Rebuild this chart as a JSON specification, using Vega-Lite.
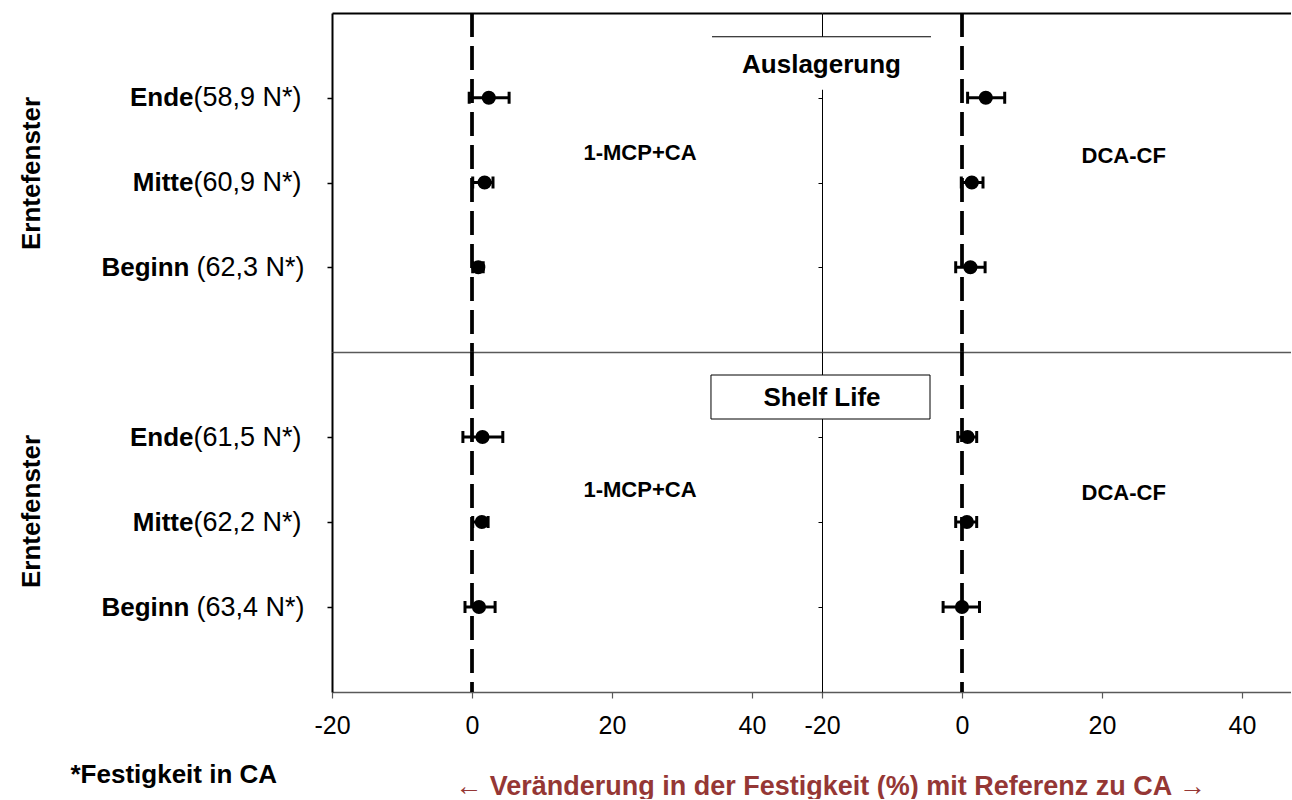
{
  "$schema": "https://vega.github.io/schema/vega-lite/v6.json",
  "background": "white",
  "padding": {"left": 18, "top": 11, "right": 0, "bottom": 0},
  "bounds": "flush",
  "spacing": 0,
  "columns": 2,
  "align": "each",
  "config": {"view": {"stroke": null}, "axis": {"grid": false}, "font": "Liberation Sans"},
  "datasets": {
    "festigkeit": [
      {"Phase": "Auslagerung", "Variante": "1-MCP+CA", "Erntefenster": "Ende(58,9 N*)", "Wert": 2.4, "Min": -0.4, "Max": 5.3},
      {"Phase": "Auslagerung", "Variante": "1-MCP+CA", "Erntefenster": "Mitte(60,9 N*)", "Wert": 1.8, "Min": 0.1, "Max": 3.0},
      {"Phase": "Auslagerung", "Variante": "1-MCP+CA", "Erntefenster": "Beginn (62,3 N*)", "Wert": 0.9, "Min": 0.1, "Max": 1.6},
      {"Phase": "Auslagerung", "Variante": "DCA-CF", "Erntefenster": "Ende(58,9 N*)", "Wert": 3.4, "Min": 0.8, "Max": 6.1},
      {"Phase": "Auslagerung", "Variante": "DCA-CF", "Erntefenster": "Mitte(60,9 N*)", "Wert": 1.4, "Min": -0.1, "Max": 3.0},
      {"Phase": "Auslagerung", "Variante": "DCA-CF", "Erntefenster": "Beginn (62,3 N*)", "Wert": 1.2, "Min": -0.9, "Max": 3.3},
      {"Phase": "Shelf Life", "Variante": "1-MCP+CA", "Erntefenster": "Ende(61,5 N*)", "Wert": 1.5, "Min": -1.3, "Max": 4.4},
      {"Phase": "Shelf Life", "Variante": "1-MCP+CA", "Erntefenster": "Mitte(62,2 N*)", "Wert": 1.4, "Min": 0.1, "Max": 2.3},
      {"Phase": "Shelf Life", "Variante": "1-MCP+CA", "Erntefenster": "Beginn (63,4 N*)", "Wert": 1.0, "Min": -1.0, "Max": 3.3},
      {"Phase": "Shelf Life", "Variante": "DCA-CF", "Erntefenster": "Ende(61,5 N*)", "Wert": 0.8, "Min": -0.6, "Max": 2.1},
      {"Phase": "Shelf Life", "Variante": "DCA-CF", "Erntefenster": "Mitte(62,2 N*)", "Wert": 0.7, "Min": -0.9, "Max": 2.1},
      {"Phase": "Shelf Life", "Variante": "DCA-CF", "Erntefenster": "Beginn (63,4 N*)", "Wert": 0.0, "Min": -2.7, "Max": 2.5}
    ]
  },
  "data": {"name": "festigkeit"},
  "concat": [
    {
      "width": 490,
      "height": 339,
      "transform": [{"filter": "datum.Phase === 'Auslagerung' && datum.Variante === '1-MCP+CA'"}],
      "layer": [
        {
          "mark": {"type": "rule", "color": "black", "strokeWidth": 3, "strokeDash": [24, 9]},
          "encoding": {
            "x": {"datum": 0, "type": "quantitative", "scale": {"domain": [-20, 50], "nice": false, "zero": false},
              "axis": {"orient": "top", "title": null, "labels": false, "ticks": false, "domainColor": "black", "domainWidth": 2}}
          }
        },
        {
          "mark": {"type": "rule", "color": "black", "strokeWidth": 3},
          "encoding": {
            "x": {"field": "Min", "type": "quantitative", "axis": null},
            "x2": {"field": "Max"},
            "y": {"field": "Erntefenster", "type": "nominal",
              "scale": {"type": "point", "padding": 1, "domain": ["Ende(58,9 N*)", "Mitte(60,9 N*)", "Beginn (62,3 N*)"]},
              "axis": {"orient": "left", "title": null, "domain": true, "domainColor": "black", "domainWidth": 2, "ticks": true, "tickSize": 5, "tickWidth": 1.5, "tickColor": "black",
                "labelExpr": "'(' + split(datum.value, '(')[1]", "labelAlign": "left", "labelBaseline": "middle",
                "labelPadding": {"condition": {"test": "indexof(datum.value, ' (') >= 0", "value": 131}, "value": 134},
                "labelFont": "Liberation Sans", "labelFontSize": 27, "labelColor": "black", "labelOverlap": false, "labelBound": false}}
          }
        },
        {
          "mark": {"type": "tick", "color": "black", "opacity": 1, "size": 12, "thickness": 3},
          "encoding": {"x": {"field": "Min", "type": "quantitative", "axis": null}, "y": {"field": "Erntefenster", "type": "nominal", "axis": null}}
        },
        {
          "mark": {"type": "tick", "color": "black", "opacity": 1, "size": 12, "thickness": 3},
          "encoding": {"x": {"field": "Max", "type": "quantitative", "axis": null}, "y": {"field": "Erntefenster", "type": "nominal", "axis": null}}
        },
        {
          "mark": {"type": "point", "filled": true, "opacity": 1, "color": "black", "size": 200},
          "encoding": {
            "x": {"field": "Wert", "type": "quantitative", "axis": null},
            "y": {"field": "Erntefenster", "type": "nominal",
              "axis": {"orient": "left", "domain": false, "ticks": false,
                "labelExpr": "trim(split(datum.value, '(')[0])", "labelAlign": "right", "labelBaseline": "middle",
                "labelPadding": {"condition": {"test": "indexof(datum.value, ' (') >= 0", "value": 143}, "value": 139},
                "labelFont": "Liberation Sans", "labelFontSize": 26, "labelFontWeight": "bold", "labelColor": "black", "labelOverlap": false, "labelBound": false,
                "title": "Erntefenster", "titleFont": "Liberation Sans", "titleFontSize": 26, "titleFontWeight": "bold", "titleColor": "black",
                "titleAngle": 270, "titleX": -293, "titleY": 160, "titleAlign": "center", "titleBaseline": "alphabetic"}}
          }
        },
        {
          "transform": [{"filter": "indexof(datum.Erntefenster, 'Mitte') === 0"}],
          "mark": {"type": "text", "font": "Liberation Sans", "fontSize": 22, "fontWeight": "bold", "color": "black", "dy": -30},
          "encoding": {
            "text": {"field": "Variante"},
            "x": {"datum": 24, "axis": null},
            "y": {"field": "Erntefenster", "type": "nominal", "axis": null}
          }
        }
      ],
      "resolve": {"axis": {"x": "independent", "y": "independent"}}
    },
    {
      "width": 469,
      "height": 339,
      "transform": [{"filter": "datum.Phase === 'Auslagerung' && datum.Variante === 'DCA-CF'"}],
      "layer": [
        {
          "mark": {"type": "rule", "color": "black", "strokeWidth": 3, "strokeDash": [24, 9]},
          "encoding": {
            "x": {"datum": 0, "type": "quantitative", "scale": {"domain": [-20, 47], "nice": false, "zero": false},
              "axis": {"orient": "top", "title": null, "labels": false, "ticks": false, "domainColor": "black", "domainWidth": 2}}
          }
        },
        {
          "mark": {"type": "rule", "color": "black", "strokeWidth": 3},
          "encoding": {
            "x": {"field": "Min", "type": "quantitative", "axis": null},
            "x2": {"field": "Max"},
            "y": {"field": "Erntefenster", "type": "nominal",
              "scale": {"type": "point", "padding": 1, "domain": ["Ende(58,9 N*)", "Mitte(60,9 N*)", "Beginn (62,3 N*)"]},
              "axis": {"orient": "left", "title": null, "labels": false, "domain": true, "domainColor": "black", "domainWidth": 1, "ticks": true, "tickSize": 4, "tickWidth": 1, "tickColor": "black"}}
          }
        },
        {
          "mark": {"type": "tick", "color": "black", "opacity": 1, "size": 12, "thickness": 3},
          "encoding": {"x": {"field": "Min", "type": "quantitative", "axis": null}, "y": {"field": "Erntefenster", "type": "nominal", "axis": null}}
        },
        {
          "mark": {"type": "tick", "color": "black", "opacity": 1, "size": 12, "thickness": 3},
          "encoding": {"x": {"field": "Max", "type": "quantitative", "axis": null}, "y": {"field": "Erntefenster", "type": "nominal", "axis": null}}
        },
        {
          "mark": {"type": "point", "filled": true, "opacity": 1, "color": "black", "size": 200},
          "encoding": {
            "x": {"field": "Wert", "type": "quantitative", "axis": null},
            "y": {"field": "Erntefenster", "type": "nominal", "axis": null}
          }
        },
        {
          "transform": [{"filter": "indexof(datum.Erntefenster, 'Mitte') === 0"}],
          "mark": {"type": "text", "font": "Liberation Sans", "fontSize": 22, "fontWeight": "bold", "color": "black", "dy": -27},
          "encoding": {
            "text": {"field": "Variante"},
            "x": {"datum": 23.1, "axis": null},
            "y": {"field": "Erntefenster", "type": "nominal", "axis": null}
          }
        },
        {
          "transform": [{"filter": "indexof(datum.Erntefenster, 'Ende') === 0"}],
          "mark": {"type": "rect", "fill": "white", "yOffset": -61, "y2Offset": -8},
          "encoding": {
            "x": {"datum": -35.71, "axis": null},
            "x2": {"datum": -4.43},
            "y": {"field": "Erntefenster", "type": "nominal", "axis": null},
            "y2": {"field": "Erntefenster"}
          }
        },
        {
          "transform": [{"filter": "indexof(datum.Erntefenster, 'Ende') === 0"}],
          "mark": {"type": "rule", "color": "black", "strokeWidth": 1, "yOffset": -61},
          "encoding": {
            "x": {"datum": -35.71, "axis": null},
            "x2": {"datum": -4.43},
            "y": {"field": "Erntefenster", "type": "nominal", "axis": null}
          }
        },
        {
          "transform": [{"filter": "indexof(datum.Erntefenster, 'Ende') === 0"}],
          "mark": {"type": "text", "font": "Liberation Sans", "fontSize": 26, "fontWeight": "bold", "color": "black", "dy": -33},
          "encoding": {
            "text": {"field": "Phase"},
            "x": {"datum": -20.07, "axis": null},
            "y": {"field": "Erntefenster", "type": "nominal", "axis": null}
          }
        }
      ],
      "resolve": {"axis": {"x": "independent", "y": "independent"}}
    },
    {
      "width": 490,
      "height": 340,
      "transform": [{"filter": "datum.Phase === 'Shelf Life' && datum.Variante === '1-MCP+CA'"}],
      "layer": [
        {
          "mark": {"type": "rule", "color": "black", "strokeWidth": 3, "strokeDash": [24, 9]},
          "encoding": {
            "x": {"datum": 0, "type": "quantitative", "scale": {"domain": [-20, 50], "nice": false, "zero": false},
              "axis": {"orient": "top", "title": null, "labels": false, "ticks": false, "domainColor": "#595959", "domainWidth": 1.5}}
          }
        },
        {
          "mark": {"type": "rule", "color": "black", "strokeWidth": 3},
          "encoding": {
            "x": {"field": "Min", "type": "quantitative",
              "axis": {"orient": "bottom", "values": [-20, 0, 20, 40], "labelExpr": "replace(datum.label, '\u2212', '-')", "domainColor": "#595959", "domainWidth": 1.5, "tickColor": "#595959", "tickWidth": 1.2, "tickSize": 6,
                "labelFont": "Liberation Sans", "labelFontSize": 25, "labelColor": "black", "labelPadding": 15, "labelFlush": false, "labelOverlap": false, "labelBound": false,
                "title": "← Veränderung in der Festigkeit (%) mit Referenz zu CA →", "titleFont": "Liberation Sans", "titleFontSize": 27, "titleFontWeight": "bold", "titleColor": "#953735",
                "titleX": 498, "titleY": 102, "titleAlign": "center", "titleBaseline": "alphabetic"}},
            "x2": {"field": "Max"},
            "y": {"field": "Erntefenster", "type": "nominal",
              "scale": {"type": "point", "padding": 1, "domain": ["Ende(61,5 N*)", "Mitte(62,2 N*)", "Beginn (63,4 N*)"]},
              "axis": {"orient": "left", "title": null, "domain": true, "domainColor": "black", "domainWidth": 2, "ticks": true, "tickSize": 5, "tickWidth": 1.5, "tickColor": "black",
                "labelExpr": "'(' + split(datum.value, '(')[1]", "labelAlign": "left", "labelBaseline": "middle",
                "labelPadding": {"condition": {"test": "indexof(datum.value, ' (') >= 0", "value": 131}, "value": 134},
                "labelFont": "Liberation Sans", "labelFontSize": 27, "labelColor": "black", "labelOverlap": false, "labelBound": false}}
          }
        },
        {
          "mark": {"type": "tick", "color": "black", "opacity": 1, "size": 12, "thickness": 3},
          "encoding": {"x": {"field": "Min", "type": "quantitative", "axis": null}, "y": {"field": "Erntefenster", "type": "nominal", "axis": null}}
        },
        {
          "mark": {"type": "tick", "color": "black", "opacity": 1, "size": 12, "thickness": 3},
          "encoding": {"x": {"field": "Max", "type": "quantitative", "axis": null}, "y": {"field": "Erntefenster", "type": "nominal", "axis": null}}
        },
        {
          "mark": {"type": "point", "filled": true, "opacity": 1, "color": "black", "size": 200},
          "encoding": {
            "x": {"field": "Wert", "type": "quantitative", "axis": null},
            "y": {"field": "Erntefenster", "type": "nominal",
              "axis": {"orient": "left", "domain": false, "ticks": false,
                "labelExpr": "trim(split(datum.value, '(')[0])", "labelAlign": "right", "labelBaseline": "middle",
                "labelPadding": {"condition": {"test": "indexof(datum.value, ' (') >= 0", "value": 143}, "value": 139},
                "labelFont": "Liberation Sans", "labelFontSize": 26, "labelFontWeight": "bold", "labelColor": "black", "labelOverlap": false, "labelBound": false,
                "title": "Erntefenster", "titleFont": "Liberation Sans", "titleFontSize": 26, "titleFontWeight": "bold", "titleColor": "black",
                "titleAngle": 270, "titleX": -293, "titleY": 159, "titleAlign": "center", "titleBaseline": "alphabetic"}}
          }
        },
        {
          "transform": [{"filter": "indexof(datum.Erntefenster, 'Mitte') === 0"}],
          "mark": {"type": "text", "font": "Liberation Sans", "fontSize": 22, "fontWeight": "bold", "color": "black", "dy": -32},
          "encoding": {
            "text": {"field": "Variante"},
            "x": {"datum": 24, "axis": null},
            "y": {"field": "Erntefenster", "type": "nominal", "axis": null}
          }
        }
      ],
      "resolve": {"axis": {"x": "independent", "y": "independent"}}
    },
    {
      "width": 469,
      "height": 340,
      "transform": [{"filter": "datum.Phase === 'Shelf Life' && datum.Variante === 'DCA-CF'"}],
      "layer": [
        {
          "mark": {"type": "rule", "color": "black", "strokeWidth": 3, "strokeDash": [24, 9]},
          "encoding": {
            "x": {"datum": 0, "type": "quantitative", "scale": {"domain": [-20, 47], "nice": false, "zero": false},
              "axis": {"orient": "top", "title": null, "labels": false, "ticks": false, "domainColor": "#595959", "domainWidth": 1.5}}
          }
        },
        {
          "mark": {"type": "rule", "color": "black", "strokeWidth": 3},
          "encoding": {
            "x": {"field": "Min", "type": "quantitative",
              "axis": {"orient": "bottom", "values": [-20, 0, 20, 40], "labelExpr": "replace(datum.label, '\u2212', '-')", "domainColor": "#595959", "domainWidth": 1.5, "tickColor": "#595959", "tickWidth": 1.2, "tickSize": 6,
                "labelFont": "Liberation Sans", "labelFontSize": 25, "labelColor": "black", "labelPadding": 15, "labelFlush": false, "labelOverlap": false, "labelBound": false,
                "title": "*Festigkeit in CA", "titleFont": "Liberation Sans", "titleFontSize": 26, "titleFontWeight": "bold", "titleColor": "black",
                "titleX": -752, "titleY": 90, "titleAlign": "left", "titleBaseline": "alphabetic"}},
            "x2": {"field": "Max"},
            "y": {"field": "Erntefenster", "type": "nominal",
              "scale": {"type": "point", "padding": 1, "domain": ["Ende(61,5 N*)", "Mitte(62,2 N*)", "Beginn (63,4 N*)"]},
              "axis": {"orient": "left", "title": null, "labels": false, "domain": true, "domainColor": "black", "domainWidth": 1, "ticks": true, "tickSize": 4, "tickWidth": 1, "tickColor": "black"}}
          }
        },
        {
          "mark": {"type": "tick", "color": "black", "opacity": 1, "size": 12, "thickness": 3},
          "encoding": {"x": {"field": "Min", "type": "quantitative", "axis": null}, "y": {"field": "Erntefenster", "type": "nominal", "axis": null}}
        },
        {
          "mark": {"type": "tick", "color": "black", "opacity": 1, "size": 12, "thickness": 3},
          "encoding": {"x": {"field": "Max", "type": "quantitative", "axis": null}, "y": {"field": "Erntefenster", "type": "nominal", "axis": null}}
        },
        {
          "mark": {"type": "point", "filled": true, "opacity": 1, "color": "black", "size": 200},
          "encoding": {
            "x": {"field": "Wert", "type": "quantitative", "axis": null},
            "y": {"field": "Erntefenster", "type": "nominal", "axis": null}
          }
        },
        {
          "transform": [{"filter": "indexof(datum.Erntefenster, 'Mitte') === 0"}],
          "mark": {"type": "text", "font": "Liberation Sans", "fontSize": 22, "fontWeight": "bold", "color": "black", "dy": -29},
          "encoding": {
            "text": {"field": "Variante"},
            "x": {"datum": 23.1, "axis": null},
            "y": {"field": "Erntefenster", "type": "nominal", "axis": null}
          }
        },
        {
          "transform": [{"filter": "indexof(datum.Erntefenster, 'Ende') === 0"}],
          "mark": {"type": "rect", "fill": "white", "stroke": "black", "strokeWidth": 1, "yOffset": -62, "y2Offset": -18},
          "encoding": {
            "x": {"datum": -35.86, "axis": null},
            "x2": {"datum": -4.57},
            "y": {"field": "Erntefenster", "type": "nominal", "axis": null},
            "y2": {"field": "Erntefenster"}
          }
        },
        {
          "transform": [{"filter": "indexof(datum.Erntefenster, 'Ende') === 0"}],
          "mark": {"type": "text", "font": "Liberation Sans", "fontSize": 26, "fontWeight": "bold", "color": "black", "dy": -39},
          "encoding": {
            "text": {"field": "Phase"},
            "x": {"datum": -20.0, "axis": null},
            "y": {"field": "Erntefenster", "type": "nominal", "axis": null}
          }
        }
      ],
      "resolve": {"axis": {"x": "independent", "y": "independent"}}
    }
  ]
}
